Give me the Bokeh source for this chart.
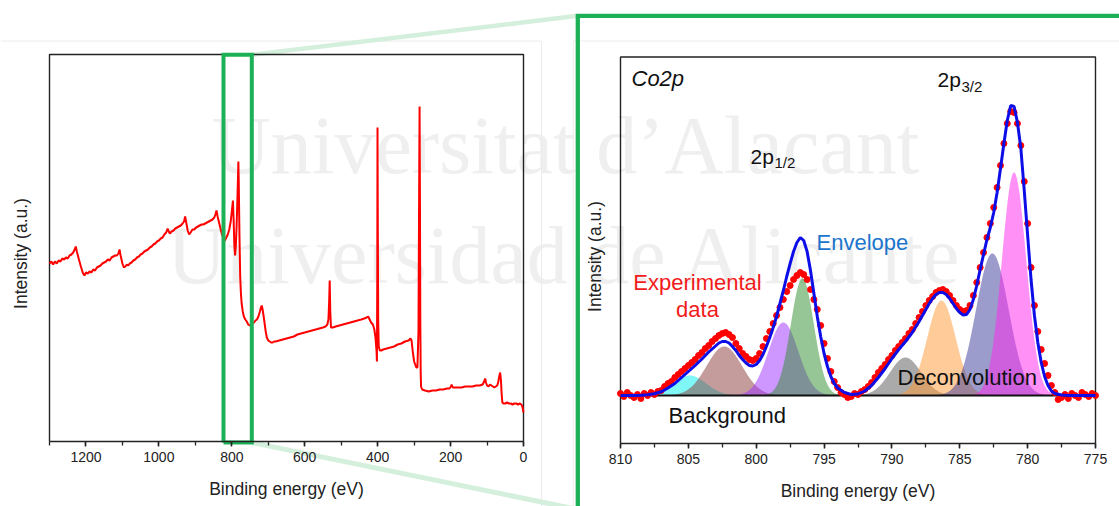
import numpy as np
from bokeh.plotting import figure
from bokeh.models import Range1d, LinearAxis, SingleIntervalTicker
from bokeh.core.properties import value
from bokeh.embed import file_html
from bokeh.resources import INLINE

# ---------------- DATA ----------------
# Survey spectrum (binding energy eV, intensity a.u.)
survey_energy = [1300, 1295, 1290, 1285, 1280, 1275, 1270, 1265, 1260, 1255, 1250, 1245, 1240, 1235, 1231, 1228,
                 1225, 1220, 1214, 1208, 1204, 1200, 1195, 1190, 1185, 1180, 1175, 1170, 1165, 1160, 1155, 1150,
                 1145, 1140, 1135, 1130, 1125, 1120, 1115, 1111, 1108, 1105, 1100, 1096, 1092, 1088, 1084, 1080,
                 1075, 1070, 1065, 1060, 1055, 1050, 1045, 1040, 1035, 1030, 1025, 1020, 1015, 1010, 1005, 1000,
                 995, 990, 985, 980, 976, 973, 970, 965, 960, 955, 950, 945, 940, 935, 931, 928, 925, 921, 917,
                 913, 908, 903, 898, 893, 888, 883, 878, 873, 868, 863, 858, 853, 848, 845, 842, 839, 835, 831,
                 827, 823, 819, 815, 811, 807, 803, 800, 797, 795, 793, 791, 789, 787, 785, 783, 782, 781, 779,
                 777, 775, 773, 770, 767, 763, 759, 755, 751, 747, 743, 739, 735, 731, 727, 723, 720, 718, 716,
                 713, 710, 707, 704, 700, 696, 692, 688, 684, 680, 670, 660, 650, 640, 630, 620, 610, 600, 590,
                 580, 570, 560, 550, 543, 538, 535, 533, 531.5, 530, 528, 523, 515, 505, 495, 485, 475, 465, 455,
                 445, 437, 430, 426, 422, 418, 413, 409, 406, 403, 402, 401, 400.4, 399.5, 398.5, 397, 394, 390,
                 385, 375, 365, 355, 345, 335, 325, 315, 310, 307, 305, 303, 300, 297, 294, 291, 288, 286.5, 285,
                 284, 283, 282, 281, 278, 270, 260, 250, 240, 230, 220, 210, 203, 199, 197, 194, 190, 180, 170,
                 160, 150, 140, 130, 120, 112, 108, 105, 103, 100, 96, 92, 88, 84, 80, 76, 72, 69, 66, 64, 62,
                 60, 58, 55, 50, 45, 40, 35, 30, 25, 20, 15, 10, 6, 3, 1, 0]
survey_intensity = [178, 180, 177, 180, 178, 181, 180, 183, 182, 184, 183, 186, 187, 189, 192, 195,
                    190, 183, 175, 168, 166, 169, 168, 170, 169, 172, 171, 174, 175, 176, 178, 179,
                    180, 182, 181, 184, 185, 186, 186, 188, 192, 186, 178, 174, 175, 177, 176, 178,
                    179, 181, 182, 184, 185, 187, 188, 190, 191, 192, 194, 195, 197, 198, 200, 201,
                    203, 204, 207, 209, 213, 210, 208, 210, 211, 213, 214, 215, 216, 218, 220, 225, 219, 211, 207,
                    209, 212, 212, 214, 215, 216, 217, 217, 218, 219, 220, 221, 222, 224, 227, 231, 225, 219, 213,
                    207, 203, 201, 204, 207, 212, 220, 230, 241, 222, 196, 186, 195, 214, 238, 264, 280, 262, 206,
                    165, 148, 138, 130, 125, 122, 120, 117, 116, 117, 118, 119, 121, 122, 125, 130, 134, 136, 133,
                    126, 118, 110, 104, 101, 100, 99, 99, 100, 100, 101, 102, 103, 104, 105, 107, 108, 109, 110,
                    111, 112, 113, 114, 115, 117, 122, 140, 161, 130, 114, 114, 115, 116, 117, 118, 119, 120, 121,
                    122, 123, 124, 125, 122, 119, 117, 112, 104, 90, 80, 170, 314, 210, 120, 95, 91, 91,
                    92, 93, 94, 95, 97, 98, 100, 101, 103, 101, 94, 88, 80, 77, 74, 74, 110, 230, 335,
                    240, 120, 70, 55, 52, 51, 50, 51, 51, 52, 52, 53, 53, 55, 57, 54, 54, 54, 54,
                    55, 55, 55, 56, 56, 57, 60, 63, 59, 56, 55, 57, 56, 55, 54, 55, 56, 60, 66, 69, 62,
                    48, 39, 38, 38, 39, 38, 38, 37, 38, 38, 37, 38, 37, 35, 31, 29]

# Co2p high-resolution spectrum: experimental points, 810 -> 775 eV every 0.25 eV
co2p_first_energy = 810.0
co2p_last_energy = 775.0
co2p_intensity = [2, -1, 3, 0, -2, 1, -3, 2, 0, 3, 1, 4, 5, 9, 12, 14, 18, 21, 24, 27, 30, 33, 36, 40, 43,
                  47, 50, 54, 57, 60, 62, 63, 61, 58, 52, 47, 42, 39, 36, 35, 37, 42, 49, 57, 64, 72, 80, 88,
                  96, 104, 110, 116, 120, 123, 121, 116, 106, 96, 86, 70, 52, 37, 24, 14, 8, 3, 1, -2, -1, 2,
                  1, 4, 6, 9, 13, 18, 23, 27, 31, 36, 40, 45, 49, 53, 57, 62, 66, 72, 78, 84, 90, 95, 99, 103,
                  105, 106, 104, 100, 95, 90, 86, 84, 85, 90, 100, 113, 128, 143, 158, 172, 188, 208, 230, 252,
                  272, 284, 283, 272, 250, 214, 172, 128, 90, 64, 46, 32, 20, 10, 3, -4, -2, 1, -3, 2, 0, -2, 3,
                  1, -1, 2, 0]

# Envelope (fit) curve
envelope_energy = [810, 809, 808.5, 808, 807.5, 807, 806.5, 806, 805.5, 805, 804.5, 804, 803.5, 803, 802.75,
                   802.5, 802.25, 802, 801.75, 801.5, 801.25, 801, 800.75, 800.5, 800.25, 800, 799.75, 799.5,
                   799.25, 799, 798.75, 798.5, 798.25, 798, 797.75, 797.5, 797.25, 797, 796.75, 796.5, 796.25,
                   796, 795.75, 795.5, 795.25, 795, 794.75, 794.5, 794.25, 794, 793.5, 793, 792.5, 792, 791.5,
                   791, 790.5, 790, 789.5, 789, 788.5, 788, 787.5, 787.25, 787, 786.75, 786.5, 786.25, 786,
                   785.75, 785.5, 785.25, 785, 784.75, 784.5, 784.25, 784, 783.75, 783.5, 783.25, 783, 782.75,
                   782.5, 782.25, 782, 781.75, 781.5, 781.25, 781, 780.75, 780.5, 780.25, 780, 779.75, 779.5,
                   779.25, 779, 778.75, 778.5, 778.25, 778, 777.5, 777, 775]
envelope_intensity = [0, 0, 0.3, 0.8, 1.8, 3.8, 7.5, 12, 18, 24, 30, 36.5, 43.5, 49.5, 52.5,
                      54, 54, 52.5, 49, 45, 40, 36, 32.5, 30, 29.5, 31, 35, 41,
                      49, 58, 68, 79, 92, 105, 119, 132, 144, 153, 158, 155, 144,
                      125, 102, 79, 59, 42, 29, 19, 12, 7.5, 3, 1, 1.5, 4.5, 10,
                      18, 27, 37, 46, 54, 63, 74, 86, 92, 97, 101, 103, 103, 101,
                      97, 92, 87, 83, 80.5, 81, 86, 96, 110, 126, 141, 156, 168,
                      183, 203, 227, 252, 275, 290, 289, 273, 247, 205, 160, 116, 80,
                      53, 33, 19, 10, 4.5, 2, 0.5, 0, 0]

# Deconvolution components (centre eV, height, gaussian sigma eV)
component_center = [804.9, 802.35, 798.0, 796.6, 789.0, 786.35, 782.6, 781.0]
component_height = [20, 49, 73, 117, 38, 95, 142, 223]
component_sigma = [1.2, 1.3, 1.1, 0.85, 1.15, 1.05, 1.2, 0.9]
component_color = ["#00f0f0", "#8b3a3a", "#9b30ff", "#2e8b2e", "#555555", "#ff9933", "#3a3a9a", "#ff22ee"]

survey_ticks_interval = 200
co2p_ticks_interval = 5

# ---------------- LAYOUT (page pixel coordinates) ----------------
W, H = 1119, 506
PX0, PY0 = 0, 0
LX0, LX1, LY0, LY1 = 49, 523, 54, 441          # survey panel box
RX0, RX1, RY0, RY1 = 620, 1095, 56.5, 443       # Co2p panel box
R_BASE = 395                                    # Co2p zero line
GREEN = "#1cb156"
FAINT = "#d4efdc"
INK = "#222222"

p = figure(width=W, height=H, x_range=Range1d(PX0, PX0 + W), y_range=Range1d(PY0 + H, PY0),
           x_axis_type=None, y_axis_type=None, toolbar_location=None, output_backend="svg",
           min_border=0, outline_line_color=None, background_fill_color="white",
           border_fill_color="white")

# survey scales
ks = 1300.0 / (LX1 - LX0)
p.extra_x_ranges["sv"] = Range1d(1300 + (LX0 - PX0) * ks, 0 - (PX0 + W - LX1) * ks)
p.extra_y_ranges["svy"] = Range1d(LY1 - (PY0 + H), LY1 - PY0)
# Co2p scales
kc = 35.0 / (RX1 - RX0)
p.extra_x_ranges["co"] = Range1d(810 + (RX0 - PX0) * kc, 775 - (PX0 + W - RX1) * kc)
p.extra_y_ranges["coy"] = Range1d(R_BASE - (PY0 + H), R_BASE - PY0)

# watermark
p.text(x=[565, 565], y=[145, 255], text=["Universitat d\u2019Alacant", "Universidad de Alicante"],
       text_align="center", text_baseline="middle", text_font=value("Liberation Serif"),
       text_font_size="82px", text_color="#efefef")

# faint card edges
p.line([PX0, 541], [40.5, 40.5], line_color="#ececec", line_width=1)
p.line([541, 541], [40.5, PY0 + H], line_color="#ececec", line_width=1)
p.line([572.7, PX0 + W], [40.5, 40.5], line_color="#ececec", line_width=1)
p.line([572.7, 572.7], [40.5, PY0 + H], line_color="#ececec", line_width=1)

# zoom connector lines
p.line([251.3, 577.3], [54.3, 15.3], line_color=FAINT, line_width=4.5)
p.line([251.3, 577.3], [442, 509], line_color=FAINT, line_width=5)

# panel boxes
p.line([LX0, LX0, LX1, LX1], [LY1, LY0, LY0, LY1], line_color=INK, line_width=1.4)
p.line([RX0, RX0, RX1, RX1], [RY1, RY0, RY0, RY1], line_color=INK, line_width=1.4)

# ---- Co2p panel
xg = np.linspace(810, 775, 1401)
for c, h, s, col in zip(component_center, component_height, component_sigma, component_color):
    yc = h * np.exp(-((xg - c) ** 2) / (2 * s * s))
    p.varea(x=xg, y1=np.zeros_like(xg), y2=yc, fill_color=col, fill_alpha=0.5,
            x_range_name="co", y_range_name="coy")
p.line([810, 775], [0, 0], line_color="#111111", line_width=2.2, x_range_name="co", y_range_name="coy")
co2p_energy = np.linspace(co2p_first_energy, co2p_last_energy, len(co2p_intensity))
p.scatter(co2p_energy, co2p_intensity, size=6, marker="circle", fill_color="#ff0000", line_color="#ff0000",
          x_range_name="co", y_range_name="coy")
p.line(envelope_energy, envelope_intensity, line_color="#0d0de8", line_width=3,
       x_range_name="co", y_range_name="coy")

# ---- survey panel
p.line(survey_energy, survey_intensity, line_color="#ff0000", line_width=2,
       x_range_name="sv", y_range_name="svy")

# green highlight rectangle and zoom frame
p.line([223, 223, 251.3, 251.3, 223], [442, 54.3, 54.3, 442, 442], line_color=GREEN, line_width=4,
       line_join="miter")
p.line([577.3, 577.3, PX0 + W + 10], [PY0 + H + 10, 15.3, 15.3], line_color=GREEN, line_width=4.3,
       line_join="miter")

# axes
def style_axis(ax):
    ax.axis_line_color = INK
    ax.axis_line_width = 1.5
    ax.major_tick_line_color = INK
    ax.major_tick_line_width = 1.5
    ax.minor_tick_line_color = INK
    ax.minor_tick_line_width = 1.3
    ax.major_tick_in = 0
    ax.major_tick_out = 5
    ax.minor_tick_in = 0
    ax.minor_tick_out = 4
    ax.major_label_text_font = "Liberation Sans"
    ax.major_label_text_font_size = "14px"
    ax.major_label_text_color = INK
    ax.major_label_standoff = 5

ax1 = LinearAxis(x_range_name="sv", fixed_location=LY1, bounds=(0, 1300),
                 ticker=SingleIntervalTicker(interval=survey_ticks_interval, num_minor_ticks=2))
style_axis(ax1)
p.add_layout(ax1, "below")
ax2 = LinearAxis(x_range_name="co", fixed_location=RY1, bounds=(775, 810),
                 ticker=SingleIntervalTicker(interval=co2p_ticks_interval, num_minor_ticks=2))
style_axis(ax2)
p.add_layout(ax2, "below")

# axis titles
SANS = value("Liberation Sans")
p.text(x=[(LX0 + LX1) / 2, (RX0 + RX1) / 2], y=[488, 490], text=["Binding energy (eV)"] * 2,
       text_align="center", text_baseline="middle", text_font=SANS, text_font_size="17.5px",
       text_color=INK)
p.text(x=[20, 594.5], y=[253, 256], text=["Intensity (a.u.)"] * 2, angle=np.pi / 2,
       text_align="center", text_baseline="middle", text_font=SANS, text_font_size="17.5px",
       text_color=INK)

# Co2p annotations
p.text(x=[631], y=[78], text=["Co2p"], text_font=SANS, text_font_style="italic", text_font_size="22px",
       text_color="#111111", text_baseline="middle")
p.text(x=[937, 750], y=[79, 156], text=["2p", "2p"], text_font=SANS, text_font_size="21px",
       text_color="#111111", text_baseline="middle")
p.text(x=[961, 774], y=[86, 162], text=["3/2", "1/2"], text_font=SANS, text_font_size="15px",
       text_color="#111111", text_baseline="middle")
p.text(x=[816], y=[242], text=["Envelope"], text_font=SANS, text_font_size="22px",
       text_color="#1b75cc", text_baseline="middle")
p.text(x=[697, 697], y=[282, 309], text=["Experimental", "data"], text_font=SANS, text_font_size="22px",
       text_color="#f21b1b", text_baseline="middle", text_align="center")
p.text(x=[897], y=[377], text=["Deconvolution"], text_font=SANS, text_font_size="22px",
       text_color="#111111", text_baseline="middle")
p.text(x=[668], y=[415], text=["Background"], text_font=SANS, text_font_size="22px",
       text_color="#111111", text_baseline="middle")

open("out.html", "w").write(file_html(p, INLINE))
